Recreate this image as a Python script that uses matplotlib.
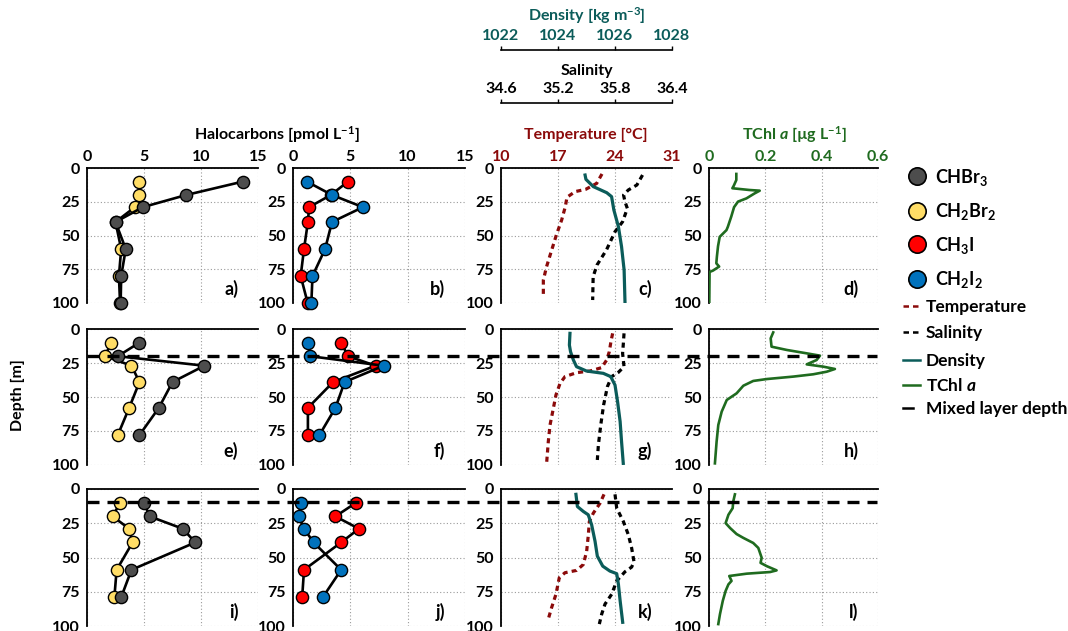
import matplotlib
matplotlib.use("Agg")
import matplotlib.pyplot as plt
from matplotlib.lines import Line2D
from matplotlib.transforms import blended_transform_factory

plt.rcParams['font.family'] = ['Lato', 'DejaVu Sans']
plt.rcParams['font.weight'] = 'bold'
plt.rcParams['mathtext.fontset'] = 'custom'
plt.rcParams['mathtext.rm'] = 'Lato:bold'
plt.rcParams['mathtext.it'] = 'Lato:bold:italic'
plt.rcParams['mathtext.bf'] = 'Lato:bold'

# ---------------- data ----------------
halo_depth = [[10, 20, 29, 40, 60, 80, 100],
              [10, 20, 27, 39, 58, 78],
              [10, 20, 29, 39, 59, 79]]
chbr3 = [[13.7, 8.7, 4.9, 2.5, 3.4, 3.0, 2.95],
         [4.6, 2.7, 10.3, 7.5, 6.3, 4.6],
         [5.0, 5.5, 8.4, 9.5, 3.9, 3.0]]
ch2br2 = [[4.6, 4.6, 4.2, 2.5, 3.0, 2.8, 2.9],
          [2.1, 1.6, 3.9, 4.6, 3.7, 2.7],
          [2.9, 2.25, 3.7, 4.0, 2.6, 2.4]]
ch3i = [[4.8, 3.3, 1.4, 1.3, 0.96, 0.67, 1.28],
        [4.2, 4.8, 7.2, 3.5, 1.3, 1.3],
        [5.5, 3.7, 5.75, 4.2, 0.96, 0.8]]
ch2i2 = [[1.2, 3.4, 6.1, 3.4, 2.8, 1.7, 1.6],
         [1.3, 1.5, 7.9, 4.5, 3.7, 2.3],
         [0.67, 0.52, 0.96, 1.8, 4.2, 2.6]]

temp_depth = [[4.4, 11.4, 15.8, 17.5, 21.7, 28.6, 38.5, 49.6, 63.2, 73, 83, 95.3],
              [3.2, 9.3, 16.7, 22.8, 28.4, 30.9, 32.1, 35, 40, 48.5, 58.3, 70.6, 82.8, 98.8],
              [3.9, 10.4, 17.6, 23.7, 33.3, 45.4, 55.1, 59.4, 61.1, 64.7, 76.8, 86.5, 94.9]]
temperature = [[22.4, 21.75, 20.4, 19.1, 18.1, 17.9, 17.45, 16.8, 16.1, 15.6, 15.2, 15.2],
               [23.71, 23.5, 23.3, 22.98, 22.36, 20.93, 19.29, 17.86, 17.25, 16.75, 16.43, 16.02, 15.81, 15.6],
               [22.65, 22.16, 21.34, 20.85, 20.73, 20.52, 20.11, 19.29, 17.86, 17.16, 16.75, 16.22, 15.81]]

sal_depth = [[5.2, 12.6, 16.3, 20, 25, 29.9, 39.8, 47.2, 60.7, 71.9, 80.5, 97.8],
             [3.2, 10.5, 17.9, 27.7, 31.9, 35, 42.4, 55.9, 70.6, 85.3, 96.3],
             [3.9, 14, 23.7, 33.3, 43, 53.1, 57, 60.4, 67.1, 76.8, 84, 91.3, 98.6]]
salinity = [[36.09, 36.03, 35.94, 35.89, 35.905, 35.93, 35.88, 35.80, 35.71, 35.61, 35.57, 35.565],
            [35.895, 35.888, 35.88, 35.895, 35.835, 35.765, 35.72, 35.68, 35.65, 35.625, 35.614],
            [35.80, 35.818, 35.888, 35.94, 35.975, 36.0, 35.975, 35.905, 35.818, 35.765, 35.695, 35.66, 35.635]]

dens_depth = [[5.2, 8.4, 13.8, 18.3, 21.2, 31.1, 43.5, 58.3, 75.6, 99],
              [3.2, 11.8, 16.7, 22.8, 27.7, 30.9, 32.6, 35, 41.2, 53.4, 68.1, 82.8, 98.8],
              [3.9, 12.8, 16.4, 18.8, 26.1, 38.2, 49, 56.3, 59.9, 61.8, 69.6, 81.6, 97.3]]
density = [[1024.95, 1024.98, 1025.24, 1025.71, 1025.88, 1025.96, 1026.12, 1026.23, 1026.32, 1026.35],
           [1024.42, 1024.40, 1024.44, 1024.54, 1024.65, 1025.0, 1025.59, 1025.85, 1026.0, 1026.09, 1026.18, 1026.23, 1026.29],
           [1024.63, 1024.68, 1024.89, 1025.06, 1025.18, 1025.30, 1025.38, 1025.57, 1025.82, 1026.06, 1026.12, 1026.18, 1026.27]]

chl_depth = [[4.4, 8.9, 13.1, 15, 16.3, 16.8, 18.8, 22.5, 24.9, 29, 36, 43.5, 46, 51, 58, 65.7, 70.6, 73, 76, 77, 100],
             [2.5, 6.9, 13, 15.4, 17.9, 19.6, 22.8, 26, 27.7, 29.4, 31.4, 33.3, 35, 36.8, 38.2, 41.7, 47.3, 52.2, 60.8, 70.6, 82.8, 98.8],
             [3.9, 9.2, 14, 18.8, 24.9, 28.5, 32.9, 35.7, 39.4, 43, 50.2, 53.9, 56.3, 59.4, 60.6, 61.8, 63.5, 67.1, 69.6, 74.4, 81.6, 91.3, 98.6]]
tchl = [[0.097, 0.097, 0.088, 0.083, 0.144, 0.180, 0.162, 0.133, 0.103, 0.089, 0.079, 0.067, 0.062, 0.038, 0.032, 0.028, 0.026, 0.036, 0.014, 0.002, 0.001],
        [0.228, 0.219, 0.222, 0.276, 0.347, 0.394, 0.382, 0.347, 0.406, 0.447, 0.418, 0.370, 0.299, 0.205, 0.157, 0.122, 0.098, 0.063, 0.045, 0.033, 0.027, 0.021],
        [0.092, 0.086, 0.084, 0.069, 0.059, 0.075, 0.098, 0.122, 0.157, 0.175, 0.187, 0.183, 0.205, 0.240, 0.217, 0.134, 0.072, 0.080, 0.069, 0.059, 0.049, 0.039, 0.033]]

mld = [None, 20, 9.5]

depth_ticks = [0, 25, 50, 75, 100]
halo_ticks = [0, 5, 10, 15]
temp_ticks = [10, 17, 24, 31]
chl_ticks = [0, 0.2, 0.4, 0.6]
chl_ticklabels = ['0', '0.2', '0.4', '0.6']
dens_ticks = [1022, 1024, 1026, 1028]
sal_ticks = [34.6, 35.2, 35.8, 36.4]
panel_letters = ['a)', 'b)', 'c)', 'd)', 'e)', 'f)', 'g)', 'h)', 'i)', 'j)', 'k)', 'l)']

# ---------------- style ----------------
C_GRAY = '#4d4d4d'
C_YEL = '#ffdd66'
C_RED = '#ff0000'
C_BLUE = '#0072bd'
C_TEMP = '#8b0a0a'
C_DENS = '#0b5c5a'
C_CHL = '#1f6b1f'

W, H = 1068, 631
fig = plt.figure(figsize=(W / 100, H / 100), dpi=100)

cols = [(87, 258), (293, 465), (501, 672), (709, 878)]
rows = [(168, 303), (329, 465), (489, 626)]

FS = 11.5


def fig_rect(x0, x1, y0, y1):
    return [x0 / W, 1 - y1 / H, (x1 - x0) / W, (y1 - y0) / H]


def style_ax(ax, xlim, xticks, show_top_labels, xticklabels=None, tick_color='black'):
    ax.set_xlim(*xlim)
    ax.set_ylim(100, 0)
    ax.set_xticks(xticks)
    if xticklabels is not None:
        ax.set_xticklabels(xticklabels)
    ax.set_yticks(depth_ticks)
    ax.xaxis.tick_top()
    ax.tick_params(axis='x', length=0, pad=3, labelsize=FS, labelcolor=tick_color,
                   labeltop=show_top_labels, labelbottom=False)
    ax.tick_params(axis='y', length=0, pad=5, labelsize=FS)
    ax.grid(True, color='#9a9a9a', lw=0.8, linestyle=(0, (1, 2)))
    ax.set_axisbelow(True)
    for s in ['right', 'bottom']:
        ax.spines[s].set_visible(False)
    for s in ['top', 'left']:
        ax.spines[s].set_linewidth(1.3)
        ax.spines[s].set_color('black')


axes = []
for r, (y0, y1) in enumerate(rows):
    row_axes = []
    for c, (x0, x1) in enumerate(cols):
        ax = fig.add_axes(fig_rect(x0, x1, y0, y1))
        row_axes.append(ax)
    axes.append(row_axes)

mk = dict(marker='o', markersize=8.8, markeredgecolor='black', markeredgewidth=1.0,
          color='black', lw=1.9, clip_on=False, zorder=3)

for r in range(3):
    axa, axb, axc, axd = axes[r]
    top = (r == 0)
    # halocarbons a
    style_ax(axa, (0, 15), halo_ticks, top)
    axa.plot(ch2br2[r], halo_depth[r], markerfacecolor=C_YEL, **mk)
    axa.plot(chbr3[r], halo_depth[r], markerfacecolor=C_GRAY, **mk)
    # halocarbons b
    style_ax(axb, (0, 15), halo_ticks, top)
    axb.plot(ch3i[r], halo_depth[r], markerfacecolor=C_RED, **mk)
    axb.plot(ch2i2[r], halo_depth[r], markerfacecolor=C_BLUE, **mk)
    # CTD: twins first, then style the temperature axis
    axs = axc.twiny()
    axden = axc.twiny()
    style_ax(axc, (10, 31), temp_ticks, top, tick_color=C_TEMP)
    axc.plot(temperature[r], temp_depth[r], color=C_TEMP, lw=2.3, linestyle=(0, (1.6, 1.3)),
             dash_capstyle='butt', zorder=3)
    axs.set_xlim(34.6, 36.4)
    axs.set_ylim(100, 0)
    axs.axis('off')
    axs.plot(salinity[r], sal_depth[r], color='black', lw=2.3, linestyle=(0, (1.6, 1.3)),
             dash_capstyle='butt', zorder=3)
    axden.set_xlim(1022, 1028)
    axden.set_ylim(100, 0)
    axden.axis('off')
    axden.plot(density[r], dens_depth[r], color=C_DENS, lw=2.3, zorder=4)
    # TChl
    style_ax(axd, (0, 0.6), chl_ticks, top, xticklabels=chl_ticklabels, tick_color=C_CHL)
    axd.plot(tchl[r], chl_depth[r], color=C_CHL, lw=1.9, zorder=3)

# panel letters
for r in range(3):
    for c in range(4):
        axes[r][c].text(0.885, 0.105, panel_letters[r * 4 + c], transform=axes[r][c].transAxes,
                        ha='right', va='center', fontsize=13, fontweight='bold', zorder=6)

# mixed layer depth lines
for r in (1, 2):
    trans = blended_transform_factory(fig.transFigure, axes[r][0].transData)
    ln = Line2D([87 / W, 877 / W], [mld[r], mld[r]], transform=trans, color='black', lw=2.4,
                linestyle=(0, (3.6, 2.4)), dash_capstyle='butt', zorder=10)
    fig.add_artist(ln)

# titles
fig.text(277 / W, 1 - 135 / H, r'Halocarbons [pmol L$^\mathregular{-1}$]', ha='center', va='center',
         fontsize=FS, fontweight='bold')
fig.text(586 / W, 1 - 135 / H, 'Temperature [°C]', ha='center', va='center',
         fontsize=FS, fontweight='bold', color=C_TEMP)
fig.text(794 / W, 1 - 135 / H, r'TChl $\mathit{a}$ [µg L$^\mathregular{-1}$]', ha='center', va='center',
         fontsize=FS, fontweight='bold', color=C_CHL)
fig.text(18 / W, 1 - 395 / H, 'Depth [m]', rotation=90, ha='center', va='center',
         fontsize=FS, fontweight='bold')


# top density / salinity axes
def top_axis(ypix, lim, ticks, color, title, title_y):
    ax = fig.add_axes([501 / W, 1 - ypix / H, 171 / W, 0.0001])
    ax.set_xlim(*lim)
    ax.set_xticks(ticks)
    ax.set_xticklabels([('%g' % t) if t != int(t) else '%d' % t for t in ticks])
    ax.set_yticks([])
    for s in ['left', 'right', 'bottom']:
        ax.spines[s].set_visible(False)
    ax.spines['top'].set_linewidth(1.2)
    ax.xaxis.tick_top()
    ax.tick_params(axis='x', direction='out', length=3, width=1, pad=2, labelsize=FS,
                   labelcolor=color, labeltop=True, labelbottom=False)
    ax.patch.set_alpha(0)
    fig.text(587 / W, 1 - title_y / H, title, ha='center', va='center', fontsize=FS,
             fontweight='bold', color=color)


top_axis(50, (1022, 1028), dens_ticks, C_DENS, r'Density [kg m$^\mathregular{-3}$]', 16)
top_axis(103, (34.6, 36.4), sal_ticks, 'black', 'Salinity', 71)

# legend (manual)
marker_entries = [(C_GRAY, r'CHBr$_\mathregular{3}$', 176),
                  (C_YEL, r'CH$_\mathregular{2}$Br$_\mathregular{2}$', 211),
                  (C_RED, r'CH$_\mathregular{3}$I', 244),
                  (C_BLUE, r'CH$_\mathregular{2}$I$_\mathregular{2}$', 279)]
for col, lab, yp in marker_entries:
    fig.add_artist(Line2D([917 / W], [1 - yp / H], transform=fig.transFigure, marker='o',
                          markersize=12.5, markerfacecolor=col, markeredgecolor='black',
                          markeredgewidth=1.2, linestyle='none'))
    fig.text(935 / W, 1 - (yp + 6.5) / H, lab, ha='left', va='baseline', fontsize=13,
             fontweight='bold')

line_entries = [(C_TEMP, (0, (2.2, 1.6)), 'Temperature', 306, 918),
                ('black', (0, (2.2, 1.6)), 'Salinity', 332, 918),
                (C_DENS, '-', 'Density', 360, 920),
                (C_CHL, '-', 'TChl $\\mathit{a}$', 385, 920),
                ('black', '-', 'Mixed layer depth', 408, 913)]
for col, ls, lab, yp, xe in line_entries:
    fig.add_artist(Line2D([903 / W, xe / W], [1 - yp / H, 1 - yp / H], transform=fig.transFigure,
                          color=col, lw=1.8, linestyle=ls, dash_capstyle='butt'))
    fig.text(926 / W, 1 - (yp + 6) / H, lab, ha='left', va='baseline', fontsize=12.5,
             fontweight='bold')

fig.savefig('out.png', dpi=100)
